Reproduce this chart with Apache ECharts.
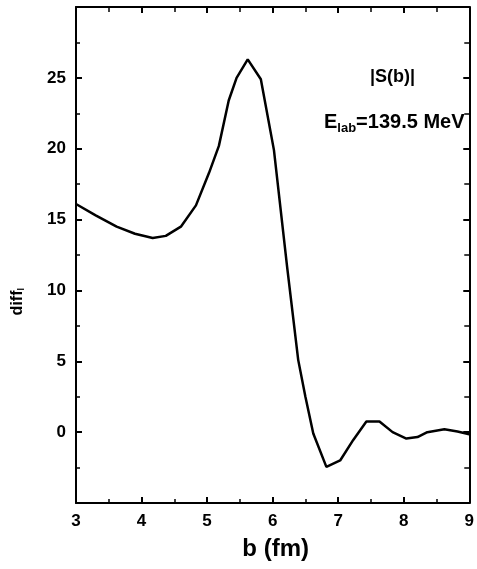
<!DOCTYPE html>
<html>
<head>
<meta charset="utf-8">
<script src="https://cdn.jsdelivr.net/npm/echarts@6/dist/echarts.min.js"></script>
<style>
html, body { margin: 0; padding: 0; background: #fff; }
#chart { width: 477px; height: 569px; }
</style>
</head>
<body>
<div id="chart"></div>
<script>
// impact parameter b (fm) and curve values
var bValues = [3.0, 3.3, 3.62, 3.9, 4.17, 4.37, 4.6, 4.83, 5.03, 5.18, 5.33, 5.45, 5.62, 5.82, 6.02, 6.22, 6.39, 6.5, 6.62, 6.82, 7.03, 7.23, 7.43, 7.63, 7.83, 8.04, 8.21, 8.36, 8.62, 8.82, 9.0];
var diffValues = [16.1, 15.3, 14.5, 14.0, 13.7, 13.85, 14.5, 16.0, 18.3, 20.2, 23.4, 25.0, 26.3, 24.9, 19.9, 11.7, 5.1, 2.5, -0.1, -2.45, -2.0, -0.55, 0.75, 0.75, 0.0, -0.45, -0.35, 0.0, 0.2, 0.05, -0.15];
var yTickLabels = [0, 5, 10, 15, 20, 25];

var fontFam = '"Liberation Sans", Arial, sans-serif';

var chart = echarts.init(document.getElementById('chart'));

var seriesData = [];
for (var i = 0; i < bValues.length; i++) {
    seriesData.push([bValues[i], diffValues[i]]);
}

var option = {
    animation: false,
    backgroundColor: '#fff',
    grid: { left: 76, top: 7, right: 5, bottom: 66 },
    xAxis: [
        {
            type: 'value', min: 3, max: 9, interval: 1,
            name: 'b (fm)', nameLocation: 'middle', nameGap: 34,
            nameTextStyle: { fontFamily: fontFam, fontWeight: 'bold', fontSize: 24, color: '#000', padding: [0, 0, 0, 6] },
            axisLine: { onZero: false, lineStyle: { color: '#000', width: 2 } },
            axisTick: { inside: true, length: 6, lineStyle: { color: '#000', width: 2 } },
            minorTick: { show: true, splitNumber: 2, length: 4, lineStyle: { color: '#000', width: 1.5 } },
            axisLabel: { fontFamily: fontFam, fontWeight: 'bold', fontSize: 17, color: '#000', margin: 10 },
            splitLine: { show: false }
        },
        {
            type: 'value', position: 'top', min: 3, max: 9, interval: 1,
            axisLine: { show: true, onZero: false, lineStyle: { color: '#000', width: 2 } },
            axisTick: { inside: true, length: 6, lineStyle: { color: '#000', width: 2 } },
            minorTick: { show: true, splitNumber: 2, length: 5, lineStyle: { color: '#000', width: 1.5 } },
            axisLabel: { show: false },
            splitLine: { show: false }
        }
    ],
    yAxis: [
        {
            type: 'value', min: -5, max: 30, interval: 5,
            axisLine: { show: true, onZero: false, lineStyle: { color: '#000', width: 2 } },
            axisTick: { inside: true, length: 6, lineStyle: { color: '#000', width: 2 } },
            minorTick: { show: true, splitNumber: 2, length: 4, lineStyle: { color: '#000', width: 1.5 } },
            axisLabel: {
                fontFamily: fontFam, fontWeight: 'bold', fontSize: 17, color: '#000', margin: 10,
                formatter: function (v) { return yTickLabels.indexOf(v) >= 0 ? String(v) : ''; }
            },
            splitLine: { show: false }
        },
        {
            type: 'value', position: 'right', min: -5, max: 30, interval: 5,
            axisLine: { show: true, onZero: false, lineStyle: { color: '#000', width: 2 } },
            axisTick: { inside: true, length: 6, lineStyle: { color: '#000', width: 2 } },
            minorTick: { show: true, splitNumber: 2, length: 5, lineStyle: { color: '#000', width: 1.5 } },
            axisLabel: { show: false },
            splitLine: { show: false }
        }
    ],
    graphic: [
        {
            type: 'text', left: 10, top: 288,
            rotation: Math.PI / 2,
            style: {
                text: 'diff{s|l}',
                fontFamily: fontFam, fontWeight: 'bold', fontSize: 16, fill: '#000',
                rich: { s: { fontFamily: fontFam, fontWeight: 'bold', fontSize: 9, verticalAlign: 'bottom', fill: '#000' } }
            }
        },
        {
            type: 'text', left: 370, top: 68,
            style: { text: '|S(b)|', fontFamily: fontFam, fontWeight: 'bold', fontSize: 18, fill: '#000' }
        },
        {
            type: 'text', left: 324, top: 112,
            style: {
                text: 'E{s|lab}=139.5 MeV',
                fontFamily: fontFam, fontWeight: 'bold', fontSize: 20, fill: '#000',
                rich: { s: { fontFamily: fontFam, fontWeight: 'bold', fontSize: 13, padding: [13, 0, 0, 0], fill: '#000' } }
            }
        }
    ],
    series: [
        {
            type: 'line',
            data: seriesData,
            showSymbol: false,
            smooth: false,
            lineStyle: { color: '#000', width: 2.5 }
        }
    ]
};

chart.setOption(option);
</script>
</body>
</html>
